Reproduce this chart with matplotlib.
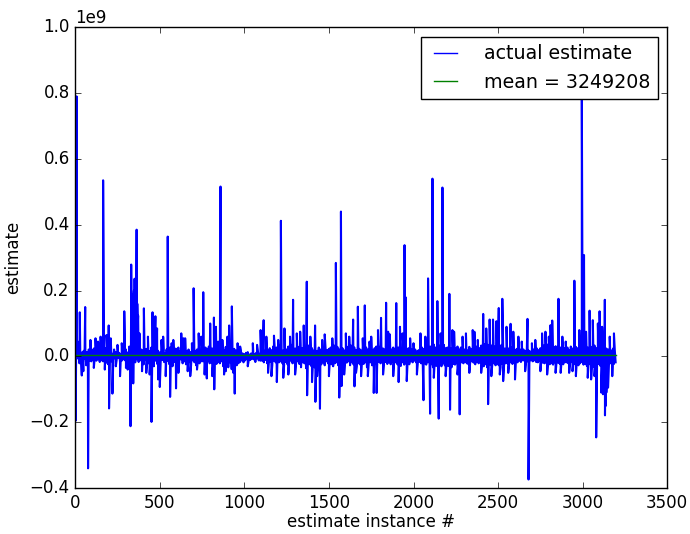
import numpy as np
import matplotlib
matplotlib.use("Agg")
import matplotlib.pyplot as plt

# ---- data (values in units of 1e6) ----
# baseline noise, one reading every 5 instances (0..3195)
base_step = 5
base_vals = [
    9, -13, 18, -6, 14, -21, 7, -17, 12, -9,
    17, -7, 11, -27, 13, -18, 21, -12, 6, -15,
    19, -11, 24, -6, 16, -13, 27, -9, 18, -17,
    23, -12, 36, -15, 17, -8, 25, -19, 13, -24,
    12, -7, 18, -15, 8, -12, 21, -6, 13, -11,
    17, -5, 11, -18, 7, -13, 15, -9, 18, -12,
    21, -13, 12, -18, 30, -11, 90, -15, 130, -12,
    150, -18, 120, -9, 100, -17, 60, -12, 21, -7,
    18, -24, 13, -11, 23, -17, 10, -21, 16, -12,
    27, -18, 21, -30, 36, -13, 24, -23, 17, -27,
    12, -21, 25, -11, 18, -17, 9, -24, 21, -13,
    15, -23, 27, -12, 11, -30, 19, -17, 24, -21,
    23, -13, 27, -18, 17, -9, 30, -21, 18, -15,
    19, -24, 16, -11, 21, -17, 13, -27, 18, -12,
    24, -18, 17, -27, 21, -12, 33, -21, 18, -15,
    29, -15, 19, -24, 27, -18, 23, -13, 30, -21,
    33, -18, 24, -29, 21, -12, 36, -23, 18, -17,
    27, -21, 37, -15, 24, -30, 19, -18, 29, -13,
    25, -33, 21, -18, 29, -39, 17, -24, 23, -15,
    18, -27, 13, -21, 11, -17, 15, -12, 9, -18,
    7, -12, 11, -8, 13, -15, 6, -11, 9, -7,
    12, -9, 7, -17, 11, -6, 15, -12, 8, -13,
    21, -13, 27, -18, 17, -11, 24, -21, 18, -15,
    25, -17, 19, -27, 30, -13, 23, -18, 27, -24,
    23, -18, 33, -15, 25, -21, 18, -27, 29, -17,
    21, -24, 30, -17, 24, -13, 35, -21, 19, -18,
    24, -27, 18, -15, 29, -23, 21, -33, 25, -18,
    30, -21, 23, -36, 27, -17, 33, -24, 19, -29,
    25, -23, 18, -33, 23, -27, 17, -19, 27, -36,
    21, -24, 29, -18, 17, -27, 24, -15, 19, -21,
    23, -17, 27, -24, 19, -30, 33, -21, 24, -18,
    29, -27, 21, -35, 36, -18, 25, -23, 18, -15,
    24, -19, 29, -15, 21, -27, 33, -18, 23, -24,
    27, -17, 19, -30, 30, -21, 23, -25, 18, -15,
    31, -23, 24, -18, 27, -33, 21, -24, 29, -18,
    23, -27, 18, -36, 25, -21, 30, -29, 21, -17,
    29, -21, 33, -18, 24, -25, 21, -17, 27, -23,
    25, -18, 30, -24, 21, -15, 27, -21, 23, -18,
    33, -24, 27, -21, 36, -29, 24, -18, 30, -25,
    27, -21, 23, -17, 25, -24, 18, -15, 21, -18,
    17, -13, 21, -18, 15, -24, 19, -17, 24, -21,
    27, -30, 23, -21, 31, -25, 24, -18, 29, -23,
    30, -24, 25, -33, 36, -21, 27, -29, 23, -25,
    33, -23, 24, -30, 29, -21, 35, -27, 25, -24,
    27, -29, 31, -21, 24, -33, 29, -23, 33, -25,
    24, -21, 30, -27, 21, -24, 27, -18, 23, -21,
    21, -17, 25, -21, 18, -24, 29, -18, 23, -15,
    27, -19, 23, -24, 30, -17, 21, -21, 25, -18,
    33, -23, 29, -30, 37, -24, 27, -33, 35, -21,
    42, -25, 33, -29, 39, -21, 30, -27, 45, -24,
    37, -27, 30, -33, 35, -23, 27, -30, 24, -21,
    29, -21, 24, -25, 21, -18, 27, -23, 18, -17,
    19, -15, 23, -18, 17, -13, 21, -17, 18, -12,
    21, -13, 17, -18, 24, -15, 18, -21, 15, -12,
    17, -15, 21, -12, 18, -17, 24, -18, 19, -13,
    25, -17, 30, -19, 33, -21, 29, -18, 36, -23,
    37, -24, 33, -21, 30, -25, 27, -18, 31, -21,
    29, -19, 24, -23, 27, -17, 21, -24, 25, -18,
    23, -18, 27, -21, 19, -25, 30, -17, 24, -21,
    33, -23, 29, -18, 25, -27, 35, -21, 36, -17,
    30, -25, 37, -23, 33, -29, 27, -21, 31, -24,
    29, -27, 24, -31, 33, -24, 25, -33, 30, -23,
    27, -29, 23, -33, 25, -36, 21, -30, 24, -27,
    21, -25, 27, -21, 18, -29, 24, -23, 19, -18,
]

# isolated spikes: instance index and value
spike_idx = [
    3, 8, 15, 27, 39, 48, 59, 76, 90, 110, 120, 135, 150, 165, 175, 185, 198,
    200, 210, 220, 240, 250, 265, 275, 290, 300, 310, 327, 331, 337, 343, 347,
    351, 355, 359, 363, 367, 372, 380, 395, 406, 420, 430, 440, 451, 457, 465,
    474, 484, 490, 500, 510, 520, 535, 547, 561, 570, 580, 596, 610, 627, 640,
    650, 665, 680, 690, 700, 720, 730, 745, 757, 765, 778, 798, 810, 820, 822,
    832, 845, 859, 870, 880, 890, 900, 910, 926, 935, 943, 960, 975, 1020,
    1050, 1075, 1096, 1114, 1130, 1140, 1160, 1175, 1192, 1200, 1216, 1230,
    1237, 1260, 1270, 1288, 1300, 1310, 1330, 1351, 1369, 1371, 1390, 1400,
    1418, 1420, 1430, 1447, 1460, 1475, 1500, 1520, 1541, 1561, 1571, 1575,
    1590, 1600, 1620, 1643, 1651, 1660, 1671, 1690, 1700, 1712, 1730, 1740,
    1750, 1765, 1782, 1790, 1808, 1820, 1838, 1850, 1860, 1880, 1898, 1912,
    1920, 1935, 1947, 1953, 1960, 1980, 2000, 2020, 2041, 2059, 2070, 2086,
    2098, 2112, 2120, 2141, 2149, 2160, 2171, 2190, 2212, 2216, 2230, 2240,
    2260, 2273, 2290, 2310, 2330, 2350, 2360, 2380, 2400, 2412, 2430, 2441,
    2450, 2460, 2470, 2490, 2504, 2510, 2525, 2530, 2550, 2560, 2574, 2590,
    2600, 2620, 2640, 2660, 2674, 2680, 2700, 2720, 2750, 2760, 2780, 2790,
    2800, 2810, 2820, 2840, 2857, 2870, 2880, 2900, 2920, 2940, 2951, 2960,
    2980, 2995, 3008, 3020, 3030, 3041, 3050, 3060, 3070, 3080, 3090, 3100,
    3110, 3115, 3120, 3131, 3132, 3137, 3140, 3150, 3160, 3175, 3185,
]
spike_vals = [
    -195, 790, 45, 134, -58, -45, 150, -340, 50, -35, 55, 45, 60, 535, -40, 65, 94,
    -158, 55, -113, -30, 35, -60, 40, 137, -35, -40, -212, 279, 190, -82, 200,
    236, 180, 210, 385, 160, 124, 70, -45, 146, -50, 60, -55, -199, 134, 90,
    122, 85, -70, -93, 50, 60, -60, 364, -123, 40, 50, -97, -50, 70, 55,
    55, -45, -60, 40, 207, -40, 70, 60, 195, -55, -67, 100, -60, 118, -100,
    90, 45, 516, 50, -55, -45, 60, 94, 152, -50, -113, 40, 30, -30,
    40, 35, 80, 110, 60, -50, -60, 63, -78, 50, 412, -65,
    85, -55, 60, 172, -55, 70, 75, 94, 227, -118, 60, -78,
    94, -138, -60, -159, 50, 67, -60, 55, 284, -125, 440, -90,
    -55, 70, 60, 112, -91, -50, 151, -60, 55, 155, -60, 45,
    60, -111, -111, 80, 117, -55, 163, 75, 67, -60, 162, -78,
    90, 70, 338, 180, -75, 55, 40, -55, 70, -133, 60, 237,
    -174, 540, -65, 168, -189, 70, 513, -60, 190, -162, 80, 75,
    -55, -176, 60, 70, -50, 80, 75, 50, -50, 129, 85, -145,
    112, -60, 112, 107, 147, -55, 175, -75, 90, -50, 99, 75,
    -70, 60, 45, -45, 114, -374, 40, 50, -45, 70, 75, -55,
    60, 95, 109, -50, 175, -50, 60, 45, -50, -45, 230, -60,
    80, 800, 308, 75, -65, 139, -70, 110, -60, -246, 100, 137,
    -110, 90, -115, 172, -179, -150, -110, -95, 60, -60, 70,
]

mean_value = 3249208
n_instances = 3200

# ---- assemble series ----
base_x = np.arange(len(base_vals)) * base_step
xs = np.concatenate([base_x, np.array(spike_idx)])
ys = np.concatenate([np.array(base_vals, float), np.array(spike_vals, float)]) * 1e6
order = np.argsort(xs, kind="stable")
xs, ys = xs[order], ys[order]

plt.style.use("classic")
fig = plt.figure(figsize=(6.9, 5.34), dpi=100)
ax = fig.add_axes([0.109, 0.086, 0.858, 0.863])

ax.plot(xs, ys, color="b", lw=1.5, label="actual estimate")
ax.plot([0, n_instances], [mean_value, mean_value], color="g", lw=1.0,
        label="mean = %d" % mean_value)

ax.set_xlim(0, 3500)
ax.set_ylim(-0.4e9, 1.0e9)
ax.set_xlabel("estimate instance #", labelpad=1)
ax.set_ylabel("estimate")
leg = ax.legend(loc="upper right", fontsize=13.7, handlelength=1.8,
                handletextpad=1.1, borderpad=0.4)
for h in leg.get_lines():
    h.set_linewidth(1.0)

fig.savefig("out.png", dpi=100)
